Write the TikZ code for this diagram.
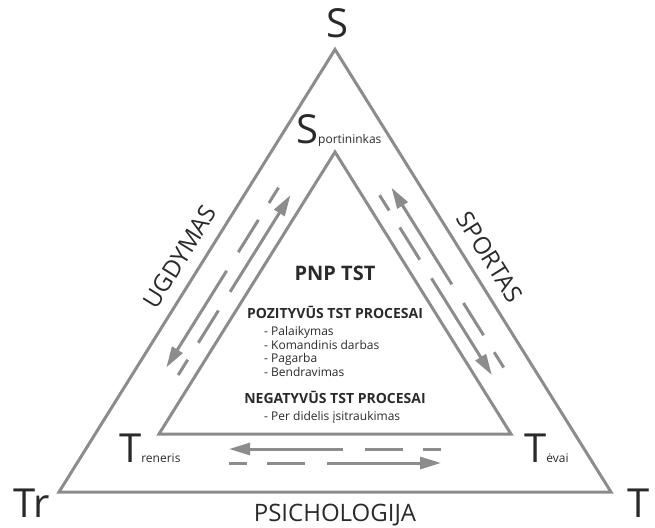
\documentclass[tikz,border=0pt]{standalone}
\usepackage{fontspec}
\setmainfont{Open Sans}
\usetikzlibrary{arrows.meta}
\definecolor{linegray}{HTML}{8C8C8C}
\definecolor{txt}{HTML}{2A2A2A}
\tikzset{
  edgeline/.style={draw=linegray, line width=3pt, line join=miter},
  flow/.style={draw=linegray, line width=3pt,
    dash pattern=on 18pt off 20pt on 38pt off 22pt on 300pt off 1pt,
    -{Triangle[length=21pt,width=12pt]}},
  bigletter/.style={font=\fontsize{40}{40}\selectfont, text=txt, inner sep=0pt},
  sidelabel/.style={font=\fontsize{24}{24}\selectfont, text=txt, inner sep=0pt},
  rolelabel/.style={text=txt, inner sep=0pt, anchor=base west},
  headbold/.style={font=\bfseries\fontsize{14}{14}\selectfont, text=txt, inner sep=0pt, anchor=base},
  item/.style={font=\fontsize{12}{12}\selectfont, text=txt, inner sep=0pt, anchor=base west},
}
\newcommand{\smallpart}[1]{{\fontsize{12}{12}\selectfont #1}}
\newcommand{\bigpart}[1]{{\fontsize{40}{40}\selectfont #1}}
\begin{document}
\begin{tikzpicture}[x=1pt,y=-1pt]
\useasboundingbox (0,0) rectangle (655,527);
% outer triangle
\coordinate (OA) at (335,49.5);
\coordinate (OL) at (59,492);
\coordinate (OR) at (611,492);
\draw[edgeline] (OA) -- (OL) -- (OR) -- cycle;
% inner triangle
\coordinate (IA) at (335,152);
\coordinate (IL) at (159,434);
\coordinate (IR) at (511,434);
\draw[edgeline] (IA) -- (IL) -- (IR) -- cycle;
% left flows
\coordinate (l1a) at (178.2,375.0);
\coordinate (l1b) at (290.4,195.2);
\coordinate (l2a) at (278.5,187.7);
\coordinate (l2b) at (166.3,367.5);
\draw[flow] (l1a) -- (l1b);
\draw[flow] (l2a) -- (l2b);
% right flows
\coordinate (r1a) at (379.6,195.2);
\coordinate (r1b) at (491.8,375.0);
\coordinate (r2a) at (503.7,367.5);
\coordinate (r2b) at (391.5,187.7);
\draw[flow] (r1a) -- (r1b);
\draw[flow] (r2a) -- (r2b);
% bottom flows
\coordinate (b1a) at (441,449);
\coordinate (b1b) at (229,449);
\coordinate (b2a) at (229,463);
\coordinate (b2b) at (441,463);
\draw[flow] (b1a) -- (b1b);
\draw[flow] (b2a) -- (b2b);
% corner letters
\node[bigletter] (topS) at (337,23) {S};
\node[bigletter] (leftTr) at (31.5,503) {Tr};
\node[bigletter] (rightT) at (639,503) {T};
% role labels
\node[rolelabel] (sport) at (296,143) {\bigpart{S}\smallpart{portininkas}};
\node[rolelabel] (trener) at (119,462) {\bigpart{T}\smallpart{reneris}};
\node[rolelabel] (tevai) at (524,462) {\bigpart{T}\smallpart{ėvai}};
% side labels
\node[sidelabel, rotate=58] (ugd) at (180,257) {UGDYMAS};
\node[sidelabel, rotate=-58] (spo) at (490,257) {SPORTAS};
\node[sidelabel, anchor=base] (psi) at (335,521) {PSICHOLOGIJA};
% centre text
\node[font=\bfseries\fontsize{20}{20}\selectfont, text=txt, inner sep=0pt, anchor=base] (pnp) at (335,280) {PNP TST};
\node[headbold] (poz) at (335,318) {POZITYVŪS TST PROCESAI};
\node[item] (i1) at (264,335) {- Palaikymas};
\node[item] (i2) at (264,349) {- Komandinis darbas};
\node[item] (i3) at (264,362) {- Pagarba};
\node[item] (i4) at (264,376) {- Bendravimas};
\node[headbold] (neg) at (335,403) {NEGATYVŪS TST PROCESAI};
\node[item] (i5) at (264,420) {- Per didelis įsitraukimas};
\end{tikzpicture}
\end{document}
